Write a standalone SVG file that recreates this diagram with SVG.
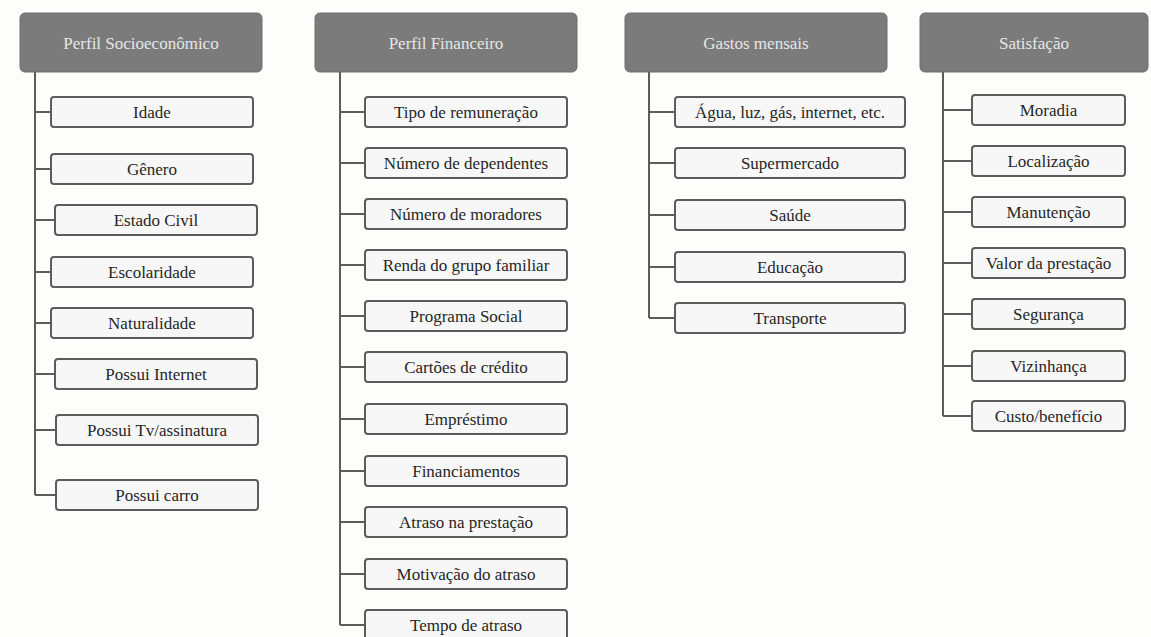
<svg xmlns="http://www.w3.org/2000/svg" width="1151" height="637" viewBox="0 0 1151 637">
<style>
.hdr{fill:#7b7b7b;stroke:#6e6e6e;stroke-width:1}
.ht{font-family:'Liberation Serif','DejaVu Serif',serif;font-size:17px;fill:#e6e6e6;text-anchor:middle}
.box{fill:#f7f7f7;stroke:#5c5c5c;stroke-width:2}
.bt{font-family:'Liberation Serif','DejaVu Serif',serif;font-size:17px;fill:#262626;text-anchor:middle}
.con{fill:none;stroke:#5c5c5c;stroke-width:2}
</style>
<rect width="1151" height="637" fill="#fdfdfc"/>
<g id="connectors">
<path class="con" d="M35 72V495M35 112H51M35 169H51M35 220H55M35 272H51M35 323H51M35 374H55M35 430H56M35 495H56"/>
<path class="con" d="M340 72V625M340 112H365M340 163H365M340 214H365M340 265H365M340 316H365M340 367H365M340 419H365M340 471H365M340 522H365M340 574H365M340 625H365"/>
<path class="con" d="M649 72V318M649 112H675M649 163H675M649 215H675M649 267H675M649 318H675"/>
<path class="con" d="M943 72V416M943 110H972M943 161H972M943 212H972M943 263H972M943 314H972M943 366H972M943 416H972"/>
</g>
<g id="h1"><rect class="hdr" x="20" y="13" width="242" height="59" rx="5"/><text class="ht" x="141" y="48.5">Perfil Socioeconômico</text></g>
<g id="h2"><rect class="hdr" x="315" y="13" width="262" height="59" rx="5"/><text class="ht" x="446" y="48.5">Perfil Financeiro</text></g>
<g id="h3"><rect class="hdr" x="625" y="13" width="262" height="59" rx="5"/><text class="ht" x="756" y="48.5">Gastos mensais</text></g>
<g id="h4"><rect class="hdr" x="920" y="13" width="228" height="59" rx="5"/><text class="ht" x="1034" y="48.5">Satisfação</text></g>

<g id="c1a"><rect class="box" x="51" y="97" width="202" height="30" rx="3"/><text class="bt" x="152" y="117.5">Idade</text></g>
<g id="c1b"><rect class="box" x="51" y="154" width="202" height="30" rx="3"/><text class="bt" x="152" y="174.5">Gênero</text></g>
<g id="c1c"><rect class="box" x="55" y="205" width="202" height="30" rx="3"/><text class="bt" x="156" y="225.5">Estado Civil</text></g>
<g id="c1d"><rect class="box" x="51" y="257" width="202" height="30" rx="3"/><text class="bt" x="152" y="277.5">Escolaridade</text></g>
<g id="c1e"><rect class="box" x="51" y="308" width="202" height="30" rx="3"/><text class="bt" x="152" y="328.5">Naturalidade</text></g>
<g id="c1f"><rect class="box" x="55" y="359" width="202" height="30" rx="3"/><text class="bt" x="156" y="379.5">Possui Internet</text></g>
<g id="c1g"><rect class="box" x="56" y="415" width="202" height="30" rx="3"/><text class="bt" x="157" y="435.5">Possui Tv/assinatura</text></g>
<g id="c1h"><rect class="box" x="56" y="480" width="202" height="30" rx="3"/><text class="bt" x="157" y="500.5">Possui carro</text></g>

<g id="c2a"><rect class="box" x="365" y="97" width="202" height="30" rx="3"/><text class="bt" x="466" y="117.5">Tipo de remuneração</text></g>
<g id="c2b"><rect class="box" x="365" y="148" width="202" height="30" rx="3"/><text class="bt" x="466" y="168.5">Número de dependentes</text></g>
<g id="c2c"><rect class="box" x="365" y="199" width="202" height="30" rx="3"/><text class="bt" x="466" y="219.5">Número de moradores</text></g>
<g id="c2d"><rect class="box" x="365" y="250" width="202" height="30" rx="3"/><text class="bt" x="466" y="270.5">Renda do grupo familiar</text></g>
<g id="c2e"><rect class="box" x="365" y="301" width="202" height="30" rx="3"/><text class="bt" x="466" y="321.5">Programa Social</text></g>
<g id="c2f"><rect class="box" x="365" y="352" width="202" height="30" rx="3"/><text class="bt" x="466" y="372.5">Cartões de crédito</text></g>
<g id="c2g"><rect class="box" x="365" y="404" width="202" height="30" rx="3"/><text class="bt" x="466" y="424.5">Empréstimo</text></g>
<g id="c2h"><rect class="box" x="365" y="456" width="202" height="30" rx="3"/><text class="bt" x="466" y="476.5">Financiamentos</text></g>
<g id="c2i"><rect class="box" x="365" y="507" width="202" height="30" rx="3"/><text class="bt" x="466" y="527.5">Atraso na prestação</text></g>
<g id="c2j"><rect class="box" x="365" y="559" width="202" height="30" rx="3"/><text class="bt" x="466" y="579.5">Motivação do atraso</text></g>
<g id="c2k"><rect class="box" x="365" y="610" width="202" height="30" rx="3"/><text class="bt" x="466" y="630.5">Tempo de atraso</text></g>

<g id="c3a"><rect class="box" x="675" y="97" width="230" height="30" rx="3"/><text class="bt" x="790" y="117.5">Água, luz, gás, internet, etc.</text></g>
<g id="c3b"><rect class="box" x="675" y="148" width="230" height="30" rx="3"/><text class="bt" x="790" y="168.5">Supermercado</text></g>
<g id="c3c"><rect class="box" x="675" y="200" width="230" height="30" rx="3"/><text class="bt" x="790" y="220.5">Saúde</text></g>
<g id="c3d"><rect class="box" x="675" y="252" width="230" height="30" rx="3"/><text class="bt" x="790" y="272.5">Educação</text></g>
<g id="c3e"><rect class="box" x="675" y="303" width="230" height="30" rx="3"/><text class="bt" x="790" y="323.5">Transporte</text></g>

<g id="c4a"><rect class="box" x="972" y="95" width="153" height="30" rx="3"/><text class="bt" x="1048.5" y="115.5">Moradia</text></g>
<g id="c4b"><rect class="box" x="972" y="146" width="153" height="30" rx="3"/><text class="bt" x="1048.5" y="166.5">Localização</text></g>
<g id="c4c"><rect class="box" x="972" y="197" width="153" height="30" rx="3"/><text class="bt" x="1048.5" y="217.5">Manutenção</text></g>
<g id="c4d"><rect class="box" x="972" y="248" width="153" height="30" rx="3"/><text class="bt" x="1048.5" y="268.5">Valor da prestação</text></g>
<g id="c4e"><rect class="box" x="972" y="299" width="153" height="30" rx="3"/><text class="bt" x="1048.5" y="319.5">Segurança</text></g>
<g id="c4f"><rect class="box" x="972" y="351" width="153" height="30" rx="3"/><text class="bt" x="1048.5" y="371.5">Vizinhança</text></g>
<g id="c4g"><rect class="box" x="972" y="401" width="153" height="30" rx="3"/><text class="bt" x="1048.5" y="421.5">Custo/benefício</text></g>
</svg>
